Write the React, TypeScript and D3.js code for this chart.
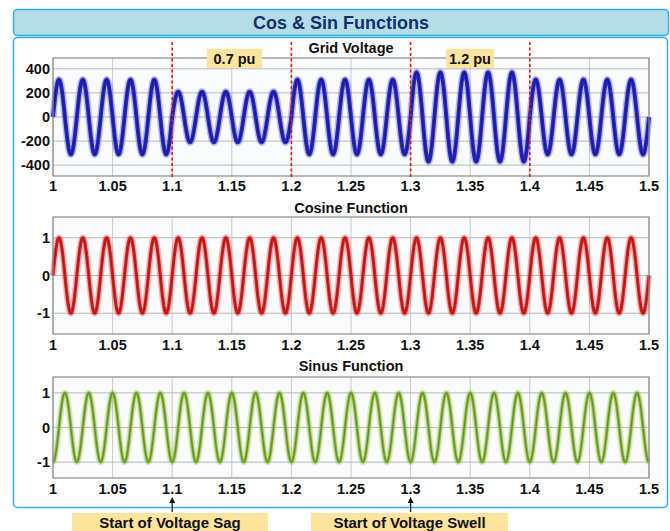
import React from "react";
import * as d3 from "d3";

const FREQ = 50;
const X_TICKS = [1, 1.05, 1.1, 1.15, 1.2, 1.25, 1.3, 1.35, 1.4, 1.45, 1.5];
const GRID_SEGMENTS = [
  { start: 1.0, end: 1.1, amp: 310 },
  { start: 1.1, end: 1.2, amp: 210 },
  { start: 1.2, end: 1.3, amp: 310 },
  { start: 1.3, end: 1.4, amp: 370 },
  { start: 1.4, end: 1.5, amp: 310 },
];
const GRID_Y_TICKS = [400, 200, 0, -200, -400];
const UNIT_Y_TICKS = [1, 0, -1];
const EVENT_LINES = [1.1, 1.2, 1.3, 1.4];
const PU_LABELS = [
  { text: "0.7 pu", x0: 207, x1: 262 },
  { text: "1.2 pu", x0: 446, x1: 494 },
];
const ANNOTATIONS = [
  { text: "Start of Voltage Sag", t: 1.1, x0: 72, x1: 268 },
  { text: "Start of Voltage Swell", t: 1.3, x0: 311, x1: 508 },
];

const FONT = "Arial, 'Liberation Sans', sans-serif";
const X0 = 53, X1 = 649;
const TICK_FS = 14.5;

function sample(fn: (t: number) => number, a: number, b: number, n = 1200) {
  const pts: [number, number][] = [];
  for (let i = 0; i <= n; i++) {
    const t = a + ((b - a) * i) / n;
    pts.push([t, fn(t)]);
  }
  return pts;
}

function Panel({ title, top, bottom, domain, yTicks, data, color, core, width, titleY, tickY }: any) {
  const x = d3.scaleLinear().domain([1, 1.5]).range([X0, X1]);
  const y = d3.scaleLinear().domain(domain).range([bottom, top]);
  const line = d3.line<[number, number]>().x((d) => x(d[0])).y((d) => y(d[1])).curve(d3.curveLinear);
  const path = line(data) || "";
  return (
    <g>
      <rect x={X0} y={top} width={X1 - X0} height={bottom - top} fill="#f9fbfd" />
      {X_TICKS.map((t) => (
        <line key={"gx" + t} x1={x(t)} x2={x(t)} y1={top} y2={bottom} stroke="#c8c8c8" strokeWidth={1} />
      ))}
      {yTicks.map((v: number) => (
        <line key={"gy" + v} x1={X0} x2={X1} y1={y(v)} y2={y(v)} stroke="#b8b8b8" strokeWidth={1} />
      ))}
      <path d={path} fill="none" stroke={color} strokeOpacity={0.3} strokeWidth={width + 3} />
      <path d={path} fill="none" stroke={color} strokeWidth={width} />
      <path d={path} fill="none" stroke={core} strokeWidth={width * 0.4} strokeOpacity={0.6} />
      <rect x={X0} y={top} width={X1 - X0} height={bottom - top} fill="none" stroke="#8a8a8a" strokeWidth={1.2} />
      {yTicks.map((v: number) => (
        <text key={"ly" + v} x={X0 - 3} y={y(v)} dy="0.35em" textAnchor="end" fontFamily={FONT} fontWeight="bold" fontSize={TICK_FS} fill="#111">
          {v}
        </text>
      ))}
      {X_TICKS.map((t) => (
        <text key={"lx" + t} x={x(t)} y={tickY} dy="0.35em" textAnchor="middle" fontFamily={FONT} fontWeight="bold" fontSize={TICK_FS} fill="#111">
          {t}
        </text>
      ))}
      <text x={(X0 + X1) / 2} y={titleY} dy="0.35em" textAnchor="middle" fontFamily={FONT} fontWeight="bold" fontSize={14.5} fill="#111">
        {title}
      </text>
    </g>
  );
}

export default function App() {
  const x = d3.scaleLinear().domain([1, 1.5]).range([X0, X1]);
  const w = 2 * Math.PI * FREQ;
  const gridFn = (t: number) => {
    const seg = GRID_SEGMENTS.find((s) => t >= s.start && t < s.end) || GRID_SEGMENTS[GRID_SEGMENTS.length - 1];
    return seg.amp * Math.sin(w * (t - 1));
  };
  const gridData = sample(gridFn, 1, 1.5, 2000);
  const cosData = sample((t) => Math.sin(w * (t - 1)), 1, 1.5, 1500);
  const sinData = sample((t) => -Math.cos(w * (t - 1)), 1, 1.5, 1500);

  return (
    <svg width={670} height={531} style={{ position: "absolute", left: 0, top: 0 }}>
      <defs>
        <marker id="arr" viewBox="0 0 10 10" refX="5" refY="5" markerWidth="5" markerHeight="5" orient="auto">
          <path d="M0,0 L10,5 L0,10 z" fill="#111" />
        </marker>
      </defs>
      <rect x={0} y={0} width={670} height={531} fill="#fff" />
      <rect x={13.5} y={9.5} width={655} height={26} rx={4} fill="#b5dde8" stroke="#2cb0ea" strokeWidth={1.5} />
      <text x={341} y={22.5} dy="0.35em" textAnchor="middle" fontFamily={FONT} fontWeight="bold" fontSize={18} fill="#14306b">
        Cos &amp; Sin Functions
      </text>
      <rect x={13.5} y={37.5} width={654} height={470} rx={4} fill="#fff" stroke="#2cb0ea" strokeWidth={1.5} />

      <Panel title="Grid Voltage" top={58} bottom={176} domain={[-490, 490]} yTicks={GRID_Y_TICKS} data={gridData}
        color="#2a2ad0" core="#101070" width={4} titleY={48} tickY={186} />
      <Panel title="Cosine Function" top={217} bottom={334} domain={[-1.55, 1.55]} yTicks={UNIT_Y_TICKS} data={cosData}
        color="#e52222" core="#8a1010" width={3.3} titleY={208} tickY={345} />
      <Panel title="Sinus Function" top={377} bottom={478} domain={[-1.46, 1.46]} yTicks={UNIT_Y_TICKS} data={sinData}
        color="#92c040" core="#4a6a20" width={3.2} titleY={366} tickY={489} />

      {EVENT_LINES.map((t) => (
        <line key={"ev" + t} x1={x(t)} x2={x(t)} y1={42} y2={177} stroke="#ee1111" strokeWidth={1.6} strokeDasharray="3,2.5" />
      ))}
      {PU_LABELS.map((p) => (
        <g key={p.text}>
          <rect x={p.x0} y={49} width={p.x1 - p.x0} height={19} fill="#fde49c" />
          <text x={(p.x0 + p.x1) / 2} y={58.5} dy="0.35em" textAnchor="middle" fontFamily={FONT} fontWeight="bold" fontSize={14.5} fill="#111">
            {p.text}
          </text>
        </g>
      ))}
      {ANNOTATIONS.map((a) => (
        <g key={a.text}>
          <line x1={x(a.t)} x2={x(a.t)} y1={512} y2={500} stroke="#111" strokeWidth={1.2} markerEnd="url(#arr)" />
          <rect x={a.x0} y={513} width={a.x1 - a.x0} height={20} fill="#fde49c" />
          <text x={(a.x0 + a.x1) / 2} y={522.5} dy="0.35em" textAnchor="middle" fontFamily={FONT} fontWeight="bold" fontSize={15} fill="#111">
            {a.text}
          </text>
        </g>
      ))}
    </svg>
  );
}
